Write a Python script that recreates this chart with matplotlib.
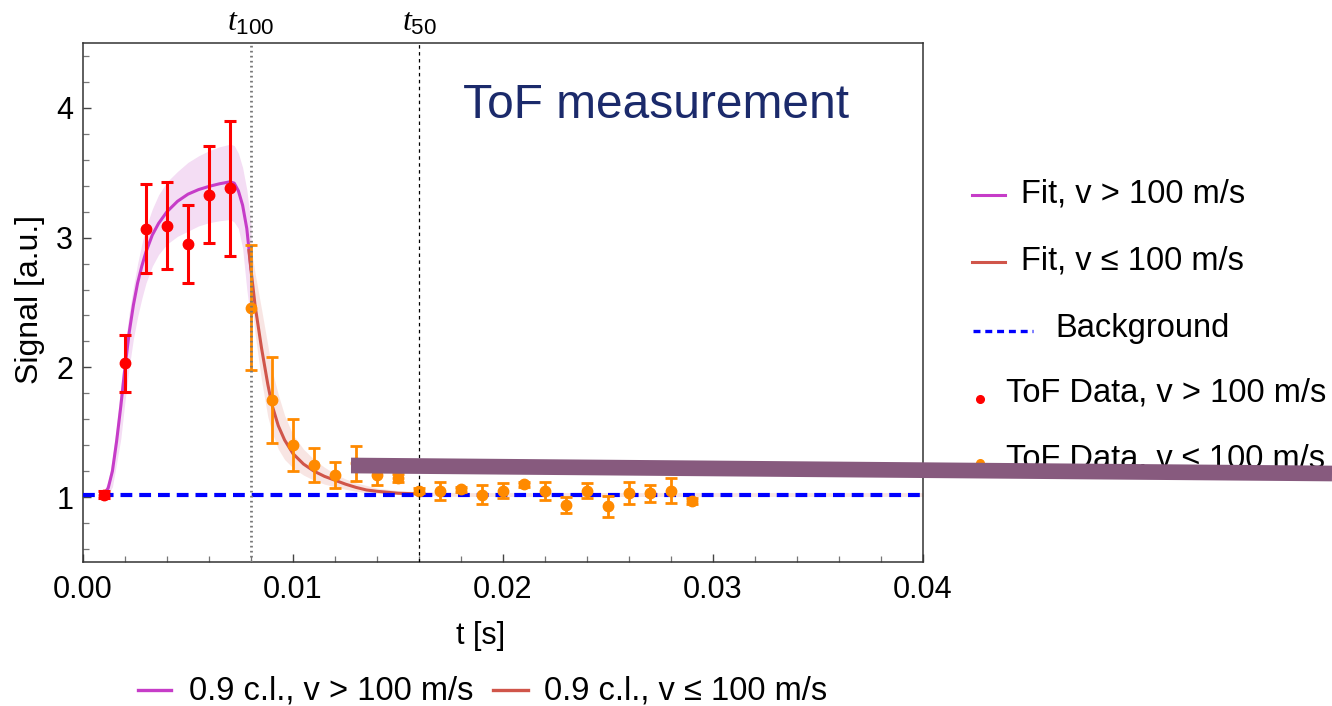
import matplotlib
matplotlib.use("Agg")
import matplotlib.pyplot as plt
from matplotlib.lines import Line2D
from matplotlib.ticker import MultipleLocator, FormatStrFormatter

plt.rcParams['font.family'] = ['Liberation Sans', 'DejaVu Sans']
plt.rcParams['mathtext.fontset'] = 'custom'
plt.rcParams['mathtext.it'] = 'Liberation Serif:italic'
plt.rcParams['mathtext.rm'] = 'Liberation Sans'
plt.rcParams['lines.scale_dashes'] = False

# --- data ---
t_fast = [0.001, 0.002, 0.003, 0.004, 0.005, 0.006, 0.007]
sig_fast = [1.02, 2.03, 3.07, 3.09, 2.95, 3.33, 3.38]
err_fast = [0.03, 0.22, 0.34, 0.335, 0.30, 0.375, 0.52]

t_slow = [0.008, 0.009, 0.010, 0.011, 0.012, 0.013, 0.014, 0.015, 0.016, 0.017, 0.018,
          0.019, 0.020, 0.021, 0.022, 0.023, 0.024, 0.025, 0.026, 0.027, 0.028, 0.029]
sig_slow = [2.46, 1.75, 1.40, 1.25, 1.17, 1.26, 1.17, 1.15, 1.05, 1.05, 1.06,
            1.02, 1.05, 1.10, 1.05, 0.94, 1.05, 0.93, 1.03, 1.03, 1.05, 0.97]
err_slow = [0.48, 0.33, 0.20, 0.13, 0.10, 0.135, 0.08, 0.03, 0.02, 0.07, 0.02,
            0.07, 0.06, 0.02, 0.07, 0.06, 0.06, 0.08, 0.085, 0.065, 0.095, 0.02]

fit_fast_t = [0.0010, 0.0012, 0.0014, 0.0016, 0.0018, 0.0020, 0.0022, 0.0024, 0.0026,
              0.0028, 0.0030, 0.0033, 0.0036, 0.0040, 0.0045, 0.0050, 0.0055, 0.0060,
              0.0065, 0.0070, 0.0072, 0.0074, 0.0076, 0.0078, 0.0080]
fit_fast_y = [1.02, 1.07, 1.20, 1.43, 1.70, 2.00, 2.27, 2.48, 2.65,
              2.78, 2.89, 3.02, 3.11, 3.20, 3.28, 3.335, 3.37, 3.395,
              3.415, 3.43, 3.42, 3.36, 3.25, 3.07, 2.76]
fit_fast_hi = [1.05, 1.12, 1.30, 1.55, 1.86, 2.16, 2.42, 2.62, 2.80,
               2.95, 3.08, 3.22, 3.33, 3.43, 3.51, 3.58, 3.63, 3.67,
               3.70, 3.72, 3.71, 3.65, 3.54, 3.37, 3.10]
fit_fast_lo = [1.00, 1.02, 1.08, 1.26, 1.45, 1.74, 2.00, 2.22, 2.39,
               2.53, 2.65, 2.78, 2.87, 2.95, 3.01, 3.05, 3.09, 3.115,
               3.13, 3.14, 3.12, 3.07, 2.92, 2.60, 2.35]

fit_slow_t = [0.0079, 0.0080, 0.0082, 0.0085, 0.0088, 0.0090, 0.0093, 0.0096, 0.0100,
              0.0105, 0.0110, 0.0115, 0.0120, 0.0125, 0.0130, 0.0135, 0.0140, 0.0150, 0.0160]
fit_slow_y = [2.90, 2.75, 2.47, 2.15, 1.87, 1.71, 1.55, 1.44, 1.335,
              1.255, 1.20, 1.16, 1.13, 1.10, 1.075, 1.055, 1.045, 1.03, 1.025]

band_slow_t = [0.0079, 0.0080, 0.0082, 0.0085, 0.0088, 0.0090, 0.0093, 0.0096, 0.0100,
               0.0105, 0.0110, 0.0115, 0.0120, 0.0125, 0.0130, 0.0135, 0.0140, 0.0150,
               0.0160, 0.0180, 0.0400]
band_slow_hi = [3.00, 2.93, 2.72, 2.45, 2.17, 1.98, 1.79, 1.63, 1.48,
                1.37, 1.29, 1.23, 1.18, 1.14, 1.11, 1.09, 1.07, 1.05,
                1.04, 1.035, 1.035]
band_slow_lo = [2.70, 2.55, 2.25, 1.90, 1.62, 1.50, 1.37, 1.29, 1.225,
                1.17, 1.13, 1.10, 1.08, 1.06, 1.045, 1.035, 1.03, 1.02,
                1.015, 1.005, 1.005]

background = 1.02
t100 = 0.008
t50 = 0.016

right_labels = ["Fit, v > 100 m/s", "Fit, v \u2264 100 m/s", "Background",
                "ToF Data, v > 100 m/s", "ToF Data, v \u2264 100 m/s"]
bottom_labels = ["0.9 c.l., v > 100 m/s", "0.9 c.l., v \u2264 100 m/s"]

# --- colours ---
C_FAST_FIT = '#C63CC8'
C_SLOW_FIT = '#D0554A'
C_FAST_BAND = '#F4DDF4'
C_SLOW_BAND = '#F8E3E0'
C_RED = '#FF0000'
C_ORANGE = '#FF8A00'
C_BG = '#0000FF'

W, H = 1332, 706
fig = plt.figure(figsize=(W / 100, H / 100), dpi=100)


def fx(px):
    return px / W


def fy(py):
    return 1 - py / H


ax = fig.add_axes([fx(83), fy(562), 840 / W, 519 / H])

ax.fill_between(fit_fast_t, fit_fast_lo, fit_fast_hi, color=C_FAST_BAND, lw=0, zorder=1)
ax.fill_between(band_slow_t, band_slow_lo, band_slow_hi, color=C_SLOW_BAND, lw=0, zorder=1,
                alpha=0.9)
ax.plot(fit_fast_t, fit_fast_y, color=C_FAST_FIT, lw=2.2, zorder=3)
ax.plot(fit_slow_t, fit_slow_y, color=C_SLOW_FIT, lw=2.2, zorder=3)
ax.axhline(background, color=C_BG, lw=3.0, dashes=(8.5, 5.0), zorder=4)

ax.errorbar(t_fast, sig_fast, yerr=err_fast, fmt='o', color=C_RED, ms=7.5,
            elinewidth=2.2, capsize=4.5, capthick=2.2, zorder=5)
ax.errorbar(t_slow, sig_slow, yerr=err_slow, fmt='o', color=C_ORANGE, ms=7.5,
            elinewidth=2.0, capsize=4.5, capthick=2.0, zorder=5)

ax.axvline(t100, color='#777777', lw=2.0, linestyle=(0, (1.2, 2.4)), zorder=6)
ax.axvline(t50, color='black', lw=0.9, linestyle=(0, (2.5, 2.5)), zorder=6)

ax.set_xlim(0, 0.04)
ax.set_ylim(0.5, 4.5)
ax.xaxis.set_major_locator(MultipleLocator(0.01))
ax.xaxis.set_minor_locator(MultipleLocator(0.002))
ax.yaxis.set_major_locator(MultipleLocator(1))
ax.yaxis.set_minor_locator(MultipleLocator(0.2))
ax.xaxis.set_major_formatter(FormatStrFormatter('%.2f'))
ax.yaxis.set_major_formatter(FormatStrFormatter('%g'))
ax.tick_params(which='both', direction='in', top=False, right=False, labelsize=22,
               color='#444444')
ax.tick_params(which='major', length=6, width=1.0)
ax.tick_params(which='minor', length=4, width=0.9, color='#777777')
ax.tick_params(axis='x', pad=9)
ax.tick_params(axis='y', pad=7)
for s in ax.spines.values():
    s.set_color('#333333')
    s.set_linewidth(1.1)

top = ax.secondary_xaxis('top')
top.set_xticks([t100, t50], labels=[r'$t_{\mathrm{100}}$', r'$t_{\mathrm{50}}$'])
top.tick_params(length=0, pad=4, labelsize=23)
top.spines['top'].set_visible(False)

fig.text(fx(481), fy(636), 't [s]', fontsize=22, ha='center', va='center')
fig.text(fx(30), fy(300), 'Signal [a.u.]', fontsize=23, ha='center', va='center',
         rotation=90)
fig.text(fx(463), fy(105), 'ToF measurement', fontsize=34.5, color='#1B2A6B',
         ha='left', va='center')

# --- right legend ---
tr = fig.transFigure
fig.add_artist(Line2D([fx(972), fx(1005)], [fy(195), fy(195)], color=C_FAST_FIT, lw=2.2,
                      transform=tr))
fig.add_artist(Line2D([fx(972), fx(1005)], [fy(262), fy(262)], color=C_SLOW_FIT, lw=2.2,
                      transform=tr))
fig.add_artist(Line2D([fx(973), fx(1033)], [fy(331), fy(331)], color=C_BG, lw=2.4,
                      dashes=(5.0, 3.5), transform=tr))
fig.add_artist(Line2D([fx(980)], [fy(399)], color=C_RED, marker='o', ms=5.5, lw=0,
                      transform=tr))
fig.add_artist(Line2D([fx(980)], [fy(463)], color=C_ORANGE, marker='o', ms=5.5, lw=0,
                      transform=tr))
right_x = [1021, 1021, 1055, 1006, 1006]
right_base = [202, 269, 337, 402, 468]
for lab, px, py in zip(right_labels, right_x, right_base):
    fig.text(fx(px), fy(py), lab, fontsize=23.5, ha='left', va='baseline')

# --- bottom legend ---
fig.add_artist(Line2D([fx(138), fx(171)], [fy(690), fy(690)], color=C_FAST_FIT, lw=2.4,
                      transform=tr))
fig.add_artist(Line2D([fx(493), fx(528)], [fy(690), fy(690)], color=C_SLOW_FIT, lw=2.4,
                      transform=tr))
for lab, px in zip(bottom_labels, [189, 544]):
    fig.text(fx(px), fy(699), lab, fontsize=23.5, ha='left', va='baseline')

# overlay stroke across the figure
fig.add_artist(Line2D([fx(351), 1.0], [fy(465.5), fy(473.5)], color='#875A7E', lw=11.3,
                      solid_capstyle='butt', transform=tr, zorder=20))

fig.savefig('out.png', dpi=100)
